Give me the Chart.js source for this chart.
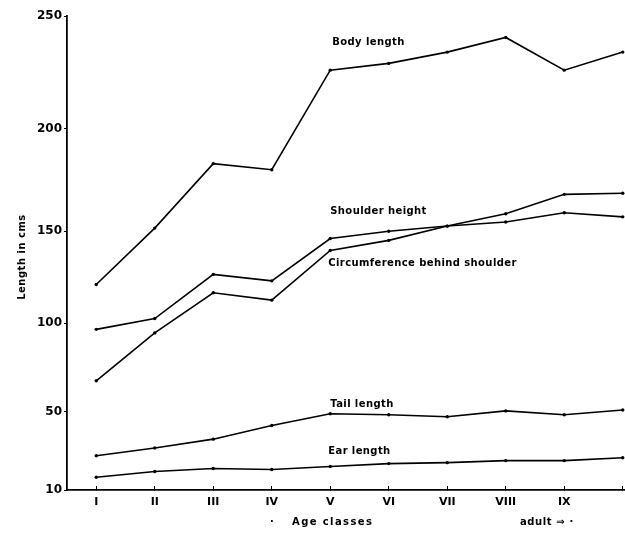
<!DOCTYPE html>
<html>
<head>
<meta charset="utf-8">
<script src="https://cdn.jsdelivr.net/npm/chart.js@4.4.1/dist/chart.umd.min.js"></script>
<style>
    html, body { margin: 0; padding: 0; background: #fff; overflow: hidden; }
    #wrap { width: 660px; height: 535px; }
</style>
</head>
<body>
<div id="wrap"><canvas id="grafico" width="660" height="535"></canvas></div>
<script>
const classes = ['I', 'II', 'III', 'IV', 'V', 'VI', 'VII', 'VIII', 'IX', ''];
const yTicks = [10, 50, 100, 150, 200, 250];

const bodyLength     = [121, 151.5, 183, 180, 226, 229, 234, 240.5, 226, 234];
const shoulderHeight = [96.5, 102.5, 126.5, 123, 146, 150, 152.5, 154.5, 159, 157];
const circumference  = [67.5, 94.5, 116.5, 112.5, 139.5, 145, 152.5, 158.5, 168, 168.5];
const tailLength     = [27.5, 31.5, 36, 43, 49, 48.5, 47.5, 50.5, 48.5, 51];
const earLength      = [16.5, 19.5, 21, 20.5, 22, 23.5, 24, 25, 25, 26.5];

// the hand-drawn y axis: tick marks are not evenly spaced
const tickFrac = [0, 0.165, 0.352, 0.546, 0.762, 1];

function toFrac(v) {
    let i = 1;
    while (i < yTicks.length - 1 && v > yTicks[i]) i++;
    const a = yTicks[i - 1], b = yTicks[i];
    return tickFrac[i - 1] + (v - a) / (b - a) * (tickFrac[i] - tickFrac[i - 1]);
}

function fromFrac(f) {
    let i = 1;
    while (i < tickFrac.length - 1 && f > tickFrac[i]) i++;
    const a = tickFrac[i - 1], b = tickFrac[i];
    return yTicks[i - 1] + (f - a) / (b - a) * (yTicks[i] - yTicks[i - 1]);
}

class HandScale extends Chart.LinearScale {
    getPixelForValue(v) {
        if (v === null || v === undefined) return NaN;
        return this.getPixelForDecimal(toFrac(v));
    }
    getValueForPixel(p) {
        return fromFrac(this.getDecimalForPixel(p));
    }
}
HandScale.id = 'hand';
HandScale.defaults = Chart.LinearScale.defaults;
Chart.register(HandScale);

const notes = [
    { text: 'Body length', at: 4, dx: 2, value: 238.5 },
    { text: 'Shoulder height', at: 4, dx: 0, value: 159.8 },
    { text: 'Circumference behind shoulder', at: 4, dx: -2, value: 132.6 },
    { text: 'Tail length', at: 4, dx: 0, value: 54 },
    { text: 'Ear length', at: 4, dx: -2, value: 29.5 }
];

const textos = {
    id: 'textos',
    afterDraw(chart) {
        const { ctx, chartArea, scales: { x, y } } = chart;
        ctx.save();
        ctx.fillStyle = '#000';
        ctx.textBaseline = 'middle';
        ctx.font = 'bold 10px "DejaVu Sans"';
        ctx.letterSpacing = '0.4px';
        notes.forEach(n => {
            ctx.fillText(n.text, x.getPixelForValue(n.at) + n.dx, y.getPixelForValue(n.value));
        });

        // axis titles
        const yb = chartArea.bottom + 32;
        ctx.letterSpacing = '1.4px';
        ctx.fillText('·', 270, yb);
        ctx.fillText('Age classes', 292, yb);
        ctx.letterSpacing = '0.6px';
        ctx.fillText('adult \u21D2 ·', 520, yb);

        ctx.letterSpacing = '0.5px';
        ctx.translate(22, 257);
        ctx.rotate(-Math.PI / 2);
        ctx.textAlign = 'center';
        ctx.fillText('Length in cms', 0, 0);
        ctx.restore();
    }
};

const serie = (label, data) => ({
    label,
    data,
    borderColor: '#000',
    backgroundColor: '#000',
    borderWidth: 1.6,
    pointRadius: 1.7,
    pointBorderWidth: 0,
    tension: 0
});

new Chart(document.getElementById('grafico'), {
    type: 'line',
    data: {
        labels: classes,
        datasets: [
            serie('Body length', bodyLength),
            serie('Shoulder height', shoulderHeight),
            serie('Circumference behind shoulder', circumference),
            serie('Tail length', tailLength),
            serie('Ear length', earLength)
        ]
    },
    options: {
        responsive: false,
        animation: false,
        events: [],
        layout: { padding: { top: 16, right: 8, left: 0, bottom: 0 } },
        plugins: {
            legend: { display: false },
            tooltip: { enabled: false }
        },
        scales: {
            x: {
                type: 'category',
                offset: true,
                afterFit: s => { s.height = 45; },
                border: { color: '#000', width: 1.8 },
                grid: { drawOnChartArea: false, color: '#000', tickLength: -4 },
                ticks: {
                    color: '#000',
                    font: { family: 'DejaVu Sans', size: 11, weight: 'bold' },
                    padding: 10,
                    maxRotation: 0,
                    autoSkip: false
                }
            },
            y: {
                type: 'hand',
                min: 10,
                max: 250,
                afterBuildTicks: s => { s.ticks = yTicks.map(v => ({ value: v })); },
                afterFit: s => { s.width = 67; },
                border: { color: '#000', width: 1.8 },
                grid: { drawOnChartArea: false, color: '#000', tickLength: 3 },
                ticks: {
                    color: '#000',
                    font: { family: 'DejaVu Sans', size: 12, weight: 'bold' },
                    padding: 2,
                    callback: v => v
                }
            }
        }
    },
    plugins: [textos]
});
</script>
</body>
</html>
